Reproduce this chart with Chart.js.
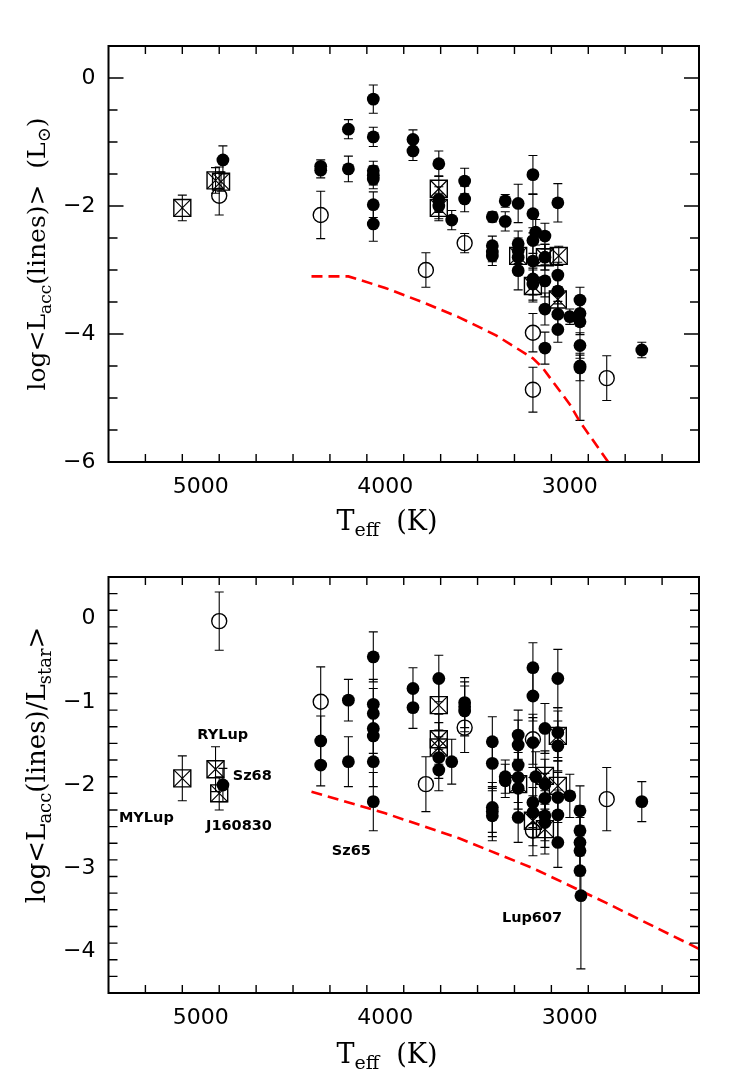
<!DOCTYPE html>
<html><head><meta charset="utf-8">
<script src="https://cdn.jsdelivr.net/npm/chart.js@4.4.0/dist/chart.umd.min.js"></script>
<style>
html,body{margin:0;padding:0;background:#fff;}
#wrap{position:relative;width:753px;height:1086px;overflow:hidden;}
canvas{position:absolute;left:0;}
</style>
</head><body>
<div id="wrap">
<canvas id="c1" width="753" height="543" style="top:0;width:753px;height:543px"></canvas>
<canvas id="c2" width="753" height="543" style="top:543px;width:753px;height:543px"></canvas>
</div>
<script>
// ---------- tick labels ----------
const xTickLabels = [5000, 4000, 3000];
const topYTickLabels = [0, -2, -4, -6];
const bottomYTickLabels = [0, -1, -2, -3, -4];

// ---------- TOP PANEL: log <Lacc(lines)> ----------
const topFilledT = [4880,4350,4350,4200,4200,4065,4065,4065,4065,4065,4065,4065,3850,3850,3710,3710,3710,3640,3570,3570,3420,3420,3420,3420,3350,3350,3280,3280,3280,3280,3280,3200,3200,3200,3200,3200,3200,3185,3135,3135,3135,3135,3135,3065,3065,3065,3065,3065,3000,2945,2945,2945,2945,2945,2945,2610];
const topFilledL = [-1.28,-1.38,-1.44,-0.80,-1.42,-0.33,-0.92,-1.45,-1.52,-1.58,-1.98,-2.28,-0.96,-1.14,-1.34,-1.90,-2.00,-2.22,-1.61,-1.89,-2.17,-2.62,-2.72,-2.78,-1.92,-2.24,-1.96,-2.59,-2.70,-2.80,-3.01,-1.51,-2.12,-2.54,-2.86,-3.14,-3.22,-2.41,-2.47,-2.80,-3.17,-3.61,-4.22,-1.95,-3.08,-3.33,-3.69,-3.93,-3.73,-3.47,-3.68,-3.81,-4.18,-4.50,-4.53,-4.25];
const topFilledErr = [0.22,0.1,0.12,0.15,0.2, 0.22,0.15,0.15,0.15,0.15, 0.2,0.27,0.15,0.15,0.2, 0.2,0.2,0.15,0.2,0.2, 0.08,0.15,0.15,0.15,0.1, 0.15,0.3,0.2,0.2,0.2, 0.3,0.3,0.3,0.2,0.3, 0.25,0.25,0.2,0.2,0.2, 0.25,0.25,0.25,0.3,0.2, 0.2,0.2,0.2,0.12,0.2, 0.2,0.2,0.2,[0.85,0.2],0.2, 0.12];

const topOpenT = [4900,4350,3780,3570,3200,3200,2800];
const topOpenL = [-1.84,-2.14,-3.00,-2.58,-3.98,-4.87,-4.69];
const topOpenErr = [[0.3,0.45],0.37,0.27,0.15,0.3,0.35,0.35];

const topCrossT = [5100,4920,4890,3710,3710,3280,3200,3135,3060,3065];
const topCrossL = [-2.03,-1.60,-1.62,-1.73,-2.03,-2.78,-3.25,-2.80,-2.78,-3.46];
const topCrossErr = [0.2,0.2,0.15,0.2,0.2,0.2,0.25,0.2,0.15,0.2];

const topLimitT = [4400,4200,4000,3800,3600,3400,3200,3150,3000,2950,2780];
const topLimitL = [-3.1,-3.1,-3.28,-3.5,-3.74,-4.02,-4.38,-4.52,-5.1,-5.35,-6.05];

// ---------- BOTTOM PANEL: log <Lacc(lines)/Lstar> ----------
const botFilledT = [4880,4350,4350,4200,4200,4065,4065,4065,4065,4065,4065,4065,3850,3850,3710,3710,3710,3640,3570,3570,3570,3420,3420,3420,3420,3420,3350,3350,3280,3280,3280,3280,3280,3280,3200,3200,3200,3200,3200,3185,3135,3135,3135,3135,3135,3065,3065,3065,3065,3065,3065,3000,2945,2945,2945,2945,2945,2940,2610];
const botFilledV = [-2.00,-1.47,-1.76,-0.98,-1.72,-0.46,-1.03,-1.14,-1.32,-1.41,-1.72,-2.20,-0.84,-1.07,-0.72,-1.67,-1.82,-1.72,-1.01,-1.06,-1.11,-1.48,-1.74,-2.27,-2.32,-2.37,-1.90,-1.95,-1.40,-1.52,-1.76,-1.91,-2.04,-2.39,-0.59,-0.93,-1.49,-2.21,-2.33,-1.90,-1.32,-1.99,-2.16,-2.37,-2.45,-0.72,-1.37,-1.53,-2.15,-2.36,-2.69,-2.13,-2.31,-2.55,-2.69,-2.79,-3.03,-3.33,-2.20];
const botFilledErr = [0.2,0.3,0.25,0.25,0.3,0.3,0.3,0.3,0.3,0.3, 0.3,0.35,0.25,0.25,0.28,0.25,0.25,0.27,0.3,0.3, 0.3,0.3,0.3,0.3,0.3,0.3,0.2,0.2,0.3,0.3, 0.3,0.3,0.3,0.3,0.3,0.3,0.3,0.3,0.3,0.3, 0.3,0.3,0.3,0.3,0.3,0.35,0.3,0.3,0.3,0.3, 0.3,0.26,0.3,0.3,0.3,0.3,0.3,[0.88,0.3],0.24];

const botOpenT = [4900,4350,3780,3570,3200,3200,2800];
const botOpenV = [-0.03,-1.00,-1.99,-1.31,-1.45,-2.55,-2.17];
const botOpenErr = [0.35,0.42,0.33,0.3,0.3,0.3,0.38];

const botCrossT = [5100,4920,4900,3710,3710,3710,3280,3200,3135,3135,3065,3065];
const botCrossV = [-1.92,-1.81,-2.10,-1.04,-1.45,-1.55,-1.99,-2.43,-1.89,-2.53,-1.41,-2.01];
const botCrossErr = [0.27,0.27,0.2,0.3,0.3,0.3,0.3,0.3,0.3,0.3,0.3,0.3];

const botLimitT = [4400,4000,3600,3200,2800,2300];
const botLimitV = [-2.08,-2.34,-2.64,-3.0,-3.42,-3.97];

const starNames = ['RYLup','Sz68','MYLup','J160830','Sz65','Lup607'];
const starNameT = [4881,4721,5295,4793,4184,3205];
const starNameV = [-1.40,-1.90,-2.40,-2.49,-2.80,-3.60];

// ---------- helpers ----------
const toPts = (T, V) => T.map((t, i) => ({x: t, y: V[i]}));
const fmt = v => (v < 0 ? '\u2212' + Math.abs(v) : String(v));

const errorBars = {
  id: 'errorBars',
  beforeDatasetsDraw(chart) {
    const {ctx, chartArea: a, scales: {x, y}} = chart;
    ctx.save();
    ctx.beginPath(); ctx.rect(a.left, a.top, a.width, a.height); ctx.clip();
    ctx.strokeStyle = '#000'; ctx.lineWidth = 1.1;
    chart.data.datasets.forEach(ds => {
      if (!ds.errors) return;
      ds.data.forEach((p, i) => {
        const e = ds.errors[i];
        const lo = Array.isArray(e) ? e[0] : e, hi = Array.isArray(e) ? e[1] : e;
        const px = x.getPixelForValue(p.x);
        const y1 = y.getPixelForValue(p.y + hi), y2 = y.getPixelForValue(p.y - lo);
        ctx.beginPath();
        ctx.moveTo(px, y1); ctx.lineTo(px, y2);
        ctx.moveTo(px - 4.5, y1); ctx.lineTo(px + 4.5, y1);
        ctx.moveTo(px - 4.5, y2); ctx.lineTo(px + 4.5, y2);
        ctx.stroke();
      });
    });
    ctx.restore();
  }
};

const frame = {
  id: 'frame',
  afterDatasetsDraw(chart, args, o) {
    const {ctx, chartArea: a, scales: {x, y}} = chart;
    ctx.save();
    ctx.strokeStyle = '#000';
    ctx.lineWidth = 1.4;
    const eps = 1e-6;
    for (let t = x.min; t <= x.max + eps; t += o.xStep) {
      const v = Math.round(t);
      if (v <= x.min || v >= x.max) continue;
      const len = (v % o.xMajor === 0) ? 15 : 8;
      const px = x.getPixelForValue(v);
      ctx.beginPath();
      ctx.moveTo(px, a.bottom); ctx.lineTo(px, a.bottom - len);
      ctx.moveTo(px, a.top); ctx.lineTo(px, a.top + len);
      ctx.stroke();
    }
    const n = Math.round((y.max - y.min) / o.yStep);
    for (let k = 1; k < n; k++) {
      const v = y.min + k * o.yStep;
      const r = v / o.yMajor;
      const major = Math.abs(r - Math.round(r)) < 1e-6;
      const len = major ? 15 : 9;
      const py = y.getPixelForValue(v);
      ctx.beginPath();
      ctx.moveTo(a.left, py); ctx.lineTo(a.left + len, py);
      ctx.moveTo(a.right, py); ctx.lineTo(a.right - len, py);
      ctx.stroke();
    }
    ctx.lineWidth = 2;
    ctx.strokeRect(a.left, a.top, a.width, a.height);
    ctx.restore();
  }
};

function drawRuns(ctx, runs, x, y) {
  let w = 0;
  runs.forEach(r => { ctx.font = r.s + 'px "DejaVu Serif"'; r.w = ctx.measureText(r.t).width; w += r.w; });
  let cx = x - w / 2;
  runs.forEach(r => { ctx.font = r.s + 'px "DejaVu Serif"'; ctx.fillText(r.t, cx, y + (r.dy || 0)); cx += r.w; });
}

const titles = {
  id: 'titles',
  afterDraw(chart, args, o) {
    const {ctx} = chart;
    ctx.save();
    ctx.fillStyle = '#000';
    ctx.textAlign = 'left';
    ctx.textBaseline = 'alphabetic';
    drawRuns(ctx, o.xRuns, o.xCx, o.xBase);
    ctx.translate(o.yBase, o.yCy);
    ctx.rotate(-Math.PI / 2);
    drawRuns(ctx, o.yRuns, 0, 0);
    ctx.restore();
  }
};

const starLabels = {
  id: 'starLabels',
  afterDatasetsDraw(chart, args, o) {
    if (!o.names) return;
    const {ctx, scales: {x, y}} = chart;
    ctx.save();
    ctx.fillStyle = '#000';
    ctx.font = 'bold 14.5px "DejaVu Sans"';
    ctx.textAlign = 'center';
    ctx.textBaseline = 'middle';
    o.names.forEach((s, i) => ctx.fillText(s, x.getPixelForValue(o.T[i]), y.getPixelForValue(o.V[i])));
    ctx.restore();
  }
};

function makeChart(canvas, cfg) {
  return new Chart(canvas, {
    type: 'scatter',
    data: {
      datasets: [
        {label: 'filled', data: cfg.filled, errors: cfg.filledErr, pointStyle: 'circle', pointRadius: 6.4,
         backgroundColor: '#000', borderColor: '#000', borderWidth: 0},
        {label: 'open', data: cfg.open, errors: cfg.openErr, pointStyle: 'circle', pointRadius: 7.5,
         backgroundColor: 'rgba(0,0,0,0)', borderColor: '#000', borderWidth: 1.4},
        {label: 'crossed', data: cfg.cross, errors: cfg.crossErr, pointStyle: 'rect', pointRadius: 12,
         backgroundColor: 'rgba(0,0,0,0)', borderColor: '#000', borderWidth: 1.4},
        {label: 'crossedX', data: cfg.cross, pointStyle: 'crossRot', pointRadius: 12,
         backgroundColor: 'rgba(0,0,0,0)', borderColor: '#000', borderWidth: 1.2},
        {label: 'limit', type: 'line', data: cfg.limit, borderColor: '#ff0000', borderWidth: 2.6,
         borderDash: [11, 6], pointRadius: 0, fill: false, tension: 0, showLine: true}
      ]
    },
    options: {
      responsive: false, animation: false, events: [],
      layout: {padding: {top: cfg.padTop, right: 54, left: 0, bottom: 0}},
      plugins: {
        legend: {display: false}, tooltip: {enabled: false},
        frame: {xStep: 200, xMajor: 1000, yStep: cfg.yStep, yMajor: cfg.yMajor},
        titles: cfg.titles,
        starLabels: cfg.labels || {}
      },
      scales: {
        x: {
          type: 'linear', reverse: true, min: 2300, max: 5500,
          grid: {display: false, drawTicks: false}, border: {display: false},
          ticks: {font: {family: 'DejaVu Sans', size: 22}, color: '#000', padding: 12, maxRotation: 0, callback: fmt},
          afterBuildTicks: s => { s.ticks = xTickLabels.map(v => ({value: v})); },
          afterFit: s => { s.height = cfg.xHeight; }
        },
        y: {
          type: 'linear', min: cfg.yMin, max: 0.5,
          grid: {display: false, drawTicks: false}, border: {display: false},
          ticks: {font: {family: 'DejaVu Sans', size: 22}, color: '#000', padding: 13, callback: fmt},
          afterBuildTicks: s => { s.ticks = cfg.yTicks.map(v => ({value: v})); },
          afterFit: s => { s.width = 108.5; }
        }
      }
    },
    plugins: [errorBars, frame, titles, starLabels]
  });
}

makeChart(document.getElementById('c1'), {
  filled: toPts(topFilledT, topFilledL), filledErr: topFilledErr,
  open: toPts(topOpenT, topOpenL), openErr: topOpenErr,
  cross: toPts(topCrossT, topCrossL), crossErr: topCrossErr,
  limit: toPts(topLimitT, topLimitL),
  padTop: 46, xHeight: 81, yMin: -6, yTicks: topYTickLabels, yStep: 0.5, yMajor: 2,
  titles: {
    xRuns: [{t: 'T', s: 27}, {t: 'eff', s: 19, dy: 6}, {t: '  (K)', s: 27}], xCx: 387, xBase: 530,
    yRuns: [{t: 'log<L', s: 25}, {t: 'acc', s: 17, dy: 6}, {t: '(lines)>  (L', s: 25}, {t: '\u2299', s: 18, dy: 5}, {t: ')', s: 25}],
    yBase: 45, yCy: 254
  }
});

makeChart(document.getElementById('c2'), {
  filled: toPts(botFilledT, botFilledV), filledErr: botFilledErr,
  open: toPts(botOpenT, botOpenV), openErr: botOpenErr,
  cross: toPts(botCrossT, botCrossV), crossErr: botCrossErr,
  limit: toPts(botLimitT, botLimitV),
  padTop: 34, xHeight: 93, yMin: -4.5, yTicks: bottomYTickLabels, yStep: 0.2, yMajor: 1,
  titles: {
    xRuns: [{t: 'T', s: 27}, {t: 'eff', s: 19, dy: 6}, {t: '  (K)', s: 27}], xCx: 387, xBase: 520,
    yRuns: [{t: 'log<L', s: 26}, {t: 'acc', s: 18, dy: 6}, {t: '(lines)/L', s: 26}, {t: 'star', s: 18, dy: 6}, {t: '>', s: 26}],
    yBase: 45, yCy: 222
  },
  labels: {names: starNames, T: starNameT, V: starNameV}
});
</script>
</body></html>
